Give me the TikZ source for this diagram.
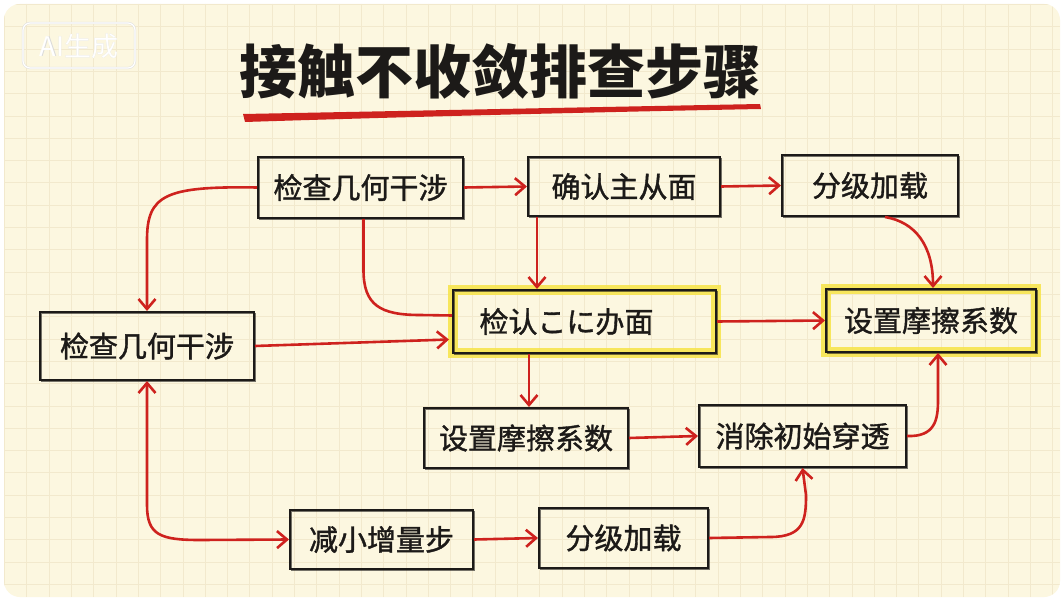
\documentclass[tikz,border=0pt]{standalone}
\usepackage{fontspec}
\newfontfamily\cjk[FakeBold=1.3]{Noto Sans CJK SC}
\newfontfamily\cjkplain{Noto Sans CJK SC}
\usetikzlibrary{arrows.meta,calc}
\definecolor{cream}{RGB}{252,247,224}
\definecolor{gridc}{RGB}{242,233,205}
\definecolor{pen}{RGB}{28,26,24}
\definecolor{redpen}{RGB}{206,34,30}
\definecolor{hlyel}{RGB}{247,228,70}
\begin{document}
\begin{tikzpicture}[x=1pt,y=-1pt,
  box/.style={draw=pen, line width=2pt, inner sep=0pt, align=center,
    font=\cjk\fontsize{29}{30}\selectfont, text=pen,
    postaction={draw=pen, line width=0.7pt, opacity=0.6, transform canvas={shift={(1.6pt,-1.4pt)}}}},
  hlbox/.style={box, preaction={draw=hlyel, line width=10pt, opacity=0.85}},
  tip/.tip={Straight Barb[length=10pt,width=17pt,line width=2.6pt]},
  arr/.style={draw=redpen, line width=2.6pt, -tip},
  arrb/.style={draw=redpen, line width=2.6pt, tip-tip},
  ln/.style={draw=redpen, line width=2.6pt}
]
\useasboundingbox (0,0) rectangle (1064,601);
\fill[white] (0,0) rectangle (1064,601);
\fill[cream, rounded corners=16pt] (4,4) rectangle (1060,597);
\begin{scope}
\clip[rounded corners=16pt] (4,4) rectangle (1060,597);
\foreach \i in {0,...,47} \draw[gridc, line width=0.8pt] ({4.5+22.3*\i},4) -- ({4.5+22.3*\i},597);
\foreach \j in {0,...,27} \draw[gridc, line width=0.8pt] (4,{4.5+22.3*\j}) -- (1060,{4.5+22.3*\j});
\end{scope}

% watermark
\draw[black!12, line width=2.2pt, rounded corners=7pt] (23,23) rectangle (135,68);
\draw[white, line width=1.2pt, rounded corners=7pt] (23,23) rectangle (135,68);
\node[text=black!15, font=\cjkplain\fontsize{27}{27}\selectfont] (wm0) at (79.6,46.6) {AI生成};
\node[text=white, font=\cjkplain\fontsize{27}{27}\selectfont] (wm) at (79,46) {AI生成};

% title
\node[font=\cjkplain\bfseries\fontsize{58}{60}\selectfont, text=pen] (title) at (500,71) {接触不收敛排查步骤};
\fill[redpen] (243,114) .. controls (400,111) and (600,107) .. (760,104)
  -- (761,109) .. controls (600,112) and (400,117) .. (245,122) -- cycle;

% nodes
\node[box, minimum width=205, minimum height=61] (A) at (360.5,187.5) {检查几何干涉};
\node[box, minimum width=192, minimum height=59] (B) at (624,186.5) {确认主从面};
\node[box, minimum width=176, minimum height=61] (C) at (870,185.5) {分级加载};
\node[box, minimum width=214, minimum height=68] (D) at (147,346) {检查几何干涉};
\node[hlbox, minimum width=263, minimum height=63, text width=210, align=left] (E) at (584.5,321.5) {检认こに办面};
\node[hlbox, minimum width=210, minimum height=63] (F) at (931,320.5) {设置摩擦系数};
\node[box, minimum width=204, minimum height=60] (G) at (526,438) {设置摩擦系数};
\node[box, minimum width=207, minimum height=62] (H) at (802.5,436) {消除初始穿透};
\node[box, minimum width=183, minimum height=59] (I) at (381.5,539.5) {减小增量步};
\node[box, minimum width=169, minimum height=60] (J) at (623.5,538) {分级加载};

% connectors
\draw[arr] (A.west) .. controls (165,186) and (147,195) .. (147,240) -- (D.north);
\draw[arr] (A.east) -- (B.west);
\draw[arr] (B.east) -- (C.west);
\draw[ln] ($(A.south)+(3,0)$) -- (363.5,270) .. controls (363.5,305) and (380,315) .. (420,315) -- ($(E.west)+(0,-6)$);
\draw[arr] ($(B.south west)+(10,0)$) -- ($(E.north west)+(85,0)$);
\draw[arr] (D.east) -- ($(E.west)+(-3,18)$);
\draw[arr] ($(C.south)+(15,0)$) .. controls (915,222) and (933,245) .. ($(F.north)+(2,0)$);
\draw[arr] (E.east) -- (F.west);
\draw[arr] ($(E.south west)+(77,0)$) -- ($(G.north west)+(106,0)$);
\draw[arr] (G.east) -- (H.west);
\draw[arr] (H.east) .. controls (935,437) and (938,420) .. (938,400) -- ($(F.south)+(7,0)$);
\draw[arrb] (D.south) -- (147,505) .. controls (147,535) and (160,540) .. (200,540) -- (I.west);
\draw[arr] (I.east) -- (J.west);
\draw[arr] (J.east) -- (770,537) .. controls (804,537) and (806,520) .. (806,495) -- (H.south);
\end{tikzpicture}
\end{document}
